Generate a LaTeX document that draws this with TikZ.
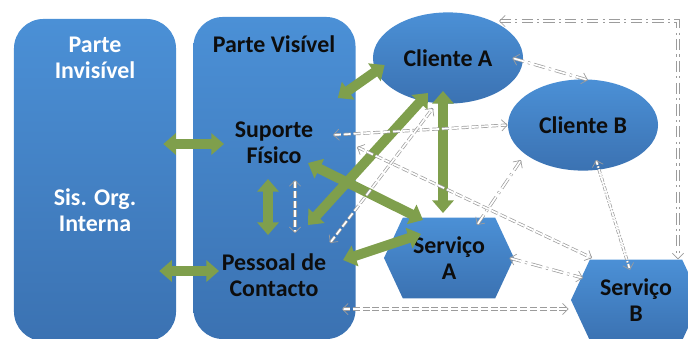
\documentclass[tikz,border=0pt]{standalone}
\usepackage{fontspec}
\setsansfont{Carlito}
\usetikzlibrary{arrows.meta,calc,shapes.geometric,shapes.symbols}
\definecolor{boxtop}{HTML}{4B90D6}
\definecolor{boxbot}{HTML}{3B72B2}
\definecolor{leaf}{HTML}{7F9F4C}
\definecolor{ink}{HTML}{0D0D0D}
\definecolor{rim}{HTML}{9C9C9C}
\tikzset{
  every node/.style={font=\sffamily\bfseries\fontsize{17}{18.5}\selectfont},
  panel/.style={rectangle, rounded corners=21pt, top color=boxtop, bottom color=boxbot,
                minimum width=4.05cm, minimum height=8.05cm, inner sep=0pt},
  oval/.style={ellipse, top color=boxtop, bottom color=boxbot, text=ink,
               minimum width=3.75cm, minimum height=2.28cm, inner sep=0pt},
  hexa/.style={signal, signal to=east and west, signal pointer angle=130,
               top color=boxtop, bottom color=boxbot, text=ink, align=center,
               minimum width=3.25cm, minimum height=2.02cm, inner sep=0pt},
  lbl/.style={align=center, text=ink},
  wlbl/.style={align=center, text=white},
  garr/.style={{Triangle[length=9pt,width=15pt]}-{Triangle[length=9pt,width=15pt]},
               line width=7pt, draw=leaf},
  thin/.style={{Straight Barb[length=4pt,width=8pt]}-{Straight Barb[length=4pt,width=8pt]},
               draw=rim, double=white, line width=0.5pt, double distance=1.2pt},
  dsh/.style={thin, dash pattern=on 5pt off 2pt},
  dshdot/.style={thin, dash pattern=on 8pt off 3pt on 1.5pt off 3pt},
  dshfine/.style={thin, dash pattern=on 3pt off 1.2pt on 1pt off 1.2pt},
}

\begin{document}
\begin{tikzpicture}[x=0.025cm, y=-0.025cm]
\useasboundingbox (0,0) rectangle (688,338);

% --- blocks ---
\node[panel] (inv) at (95,180) {};
\node[panel] (vis) at (274.5,178) {};
\node[oval] (ca) at (448,58) {Cliente A};
\node[oval] (cb) at (583,125) {Cliente B};
\node[hexa] (sa) at (449,258) {Serviço\\A};
\node[hexa] (sb) at (636,300) {Serviço\\B};

\node[wlbl] (invlbl) at (95,58) {Parte\\Invisível};
\node[wlbl] (sis) at (95,210) {Sis. Org.\\Interna};
\node[lbl] (vislbl) at (274,44) {Parte Visível};
\node[lbl] (sup) at (274,143) {Suporte\\Físico};
\node[lbl] (pes) at (274,275) {Pessoal de\\Contacto};

% --- strong links ---
\draw[garr] ($(inv.east|-sup)+(-13,1)$) -- ($(sup)+(-50,1)$);
\draw[garr] ($(inv.east|-pes)+(-17,-4)$) -- ($(pes)+(-55,-4)$);
\draw[garr] ($(sup)+(-6,36)$) -- ($(pes)+(-6,-40)$);
\draw[garr] ($(vis.east)+(-18,-80)$) -- ($(ca.west)+(12,7)$);
\draw[garr] ($(sup)+(34,20)$) -- ($(sa)+(-26,-38)$);
\draw[garr] ($(pes)+(34,-50)$) -- ($(ca)+(-20,35)$);
\draw[garr] ($(ca)+(-5,33)$) -- ($(sa)+(-6,-45)$);
\draw[garr] ($(pes)+(69,-15)$) -- ($(sa)+(-28,-24)$);

% --- weak links ---
\draw[dshdot] ($(ca.east)+(-11,0)$) -- ($(cb.north)+(5,1)$);
\draw[dsh] ($(sup)+(59,-8)$) -- (cb.west);
\draw[dsh] ($(sup)+(83,4)$) -- ($(sb)+(-44,-42)$);
\draw[dsh] ($(pes)+(56,-32)$) -- ($(ca)+(-15,50)$);
\draw[dsh] ($(sup)+(21,37)$) -- ($(pes)+(21,-42)$);
\draw[dshdot] ($(sa)+(28,-33)$) -- ($(cb)+(-62,35)$);
\draw[dshdot] ($(sa.east)+(-5,0)$) -- ($(sb)+(-53,-22)$);
\draw[dshfine] ($(cb)+(13,35)$) -- ($(sb)+(-6,-30)$);
\draw[dsh] ($(pes)+(68,34)$) -- ($(sb.west)+(-2,9)$);
\draw[dshdot] ($(ca)+(51,-37)$) -| ($(sb.north)+(42,0)$);

\end{tikzpicture}
\end{document}
